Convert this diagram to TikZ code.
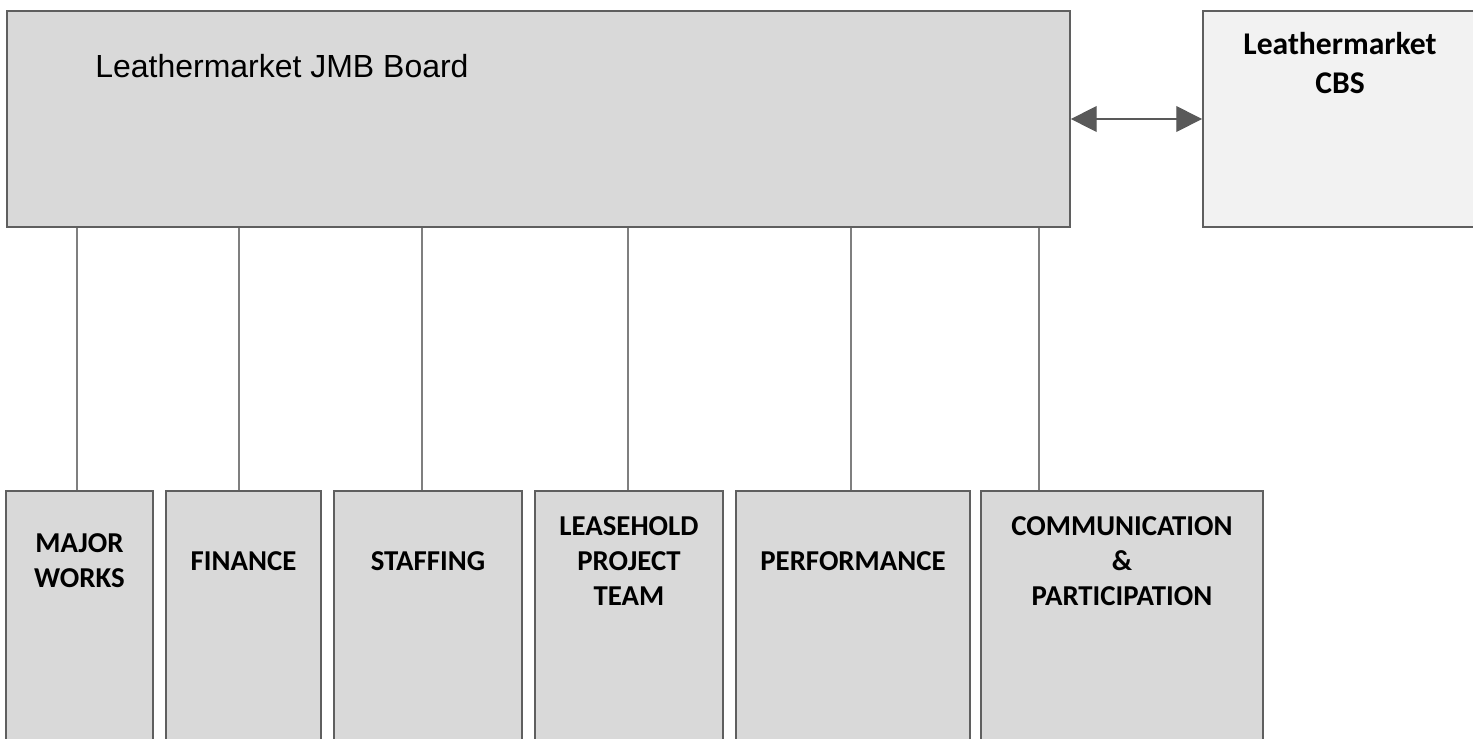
\documentclass[tikz,border=0pt]{standalone}
\usepackage{fontspec}
\setmainfont{Carlito}
\newfontfamily\boardfont{Liberation Sans}
\usepackage{tikz}
\usetikzlibrary{arrows.meta}
\usepackage{xcolor}
\definecolor{panel}{HTML}{D9D9D9}
\definecolor{panellight}{HTML}{F2F2F2}
\definecolor{edgegray}{HTML}{5F5F5F}
\definecolor{wiregray}{HTML}{7F7F7F}
\definecolor{arrowgray}{HTML}{595959}

\begin{document}
\begin{tikzpicture}[x=0.02cm, y=-0.02cm,
        % Define the styles for boxes, captions and links
        box/.style={draw=edgegray, fill=panel, line width=1.1pt, rectangle, inner sep=0pt},
        caption/.style={font=\bfseries\fontsize{16.4}{19.8}\selectfont, align=center, inner sep=0pt},
        link/.style={draw=wiregray, line width=0.7pt}]

        \useasboundingbox (0,0) rectangle (1473,738);

        % 1. The board and the CBS at the top
        \node[box, minimum width=21.26cm, minimum height=4.32cm] (board) at (538.5,119) {};
        \node[box, fill=panellight, minimum width=5.46cm, minimum height=4.32cm] (cbs) at (1339.5,119) {};

        \node[anchor=base west, inner sep=0pt, font=\boardfont\fontsize{18.2}{22}\selectfont] (board-title) at (95,77) {Leathermarket JMB Board};
        \node[caption, font=\bfseries\fontsize{18}{22.7}\selectfont] (cbs-title) at (1340,63) {Leathermarket\\CBS};

        % 2. Two-way arrow between them
        \draw[arrowgray, line width=0.75pt, {Triangle[length=14.7pt, width=14.7pt]}-{Triangle[length=14.7pt, width=14.7pt]}] (board.east) -- (cbs.west);

        % 3. The committees along the bottom (name/centre/width/text)
        \foreach \name/\cx/\w/\txt in {
                major/79.5/2.94/{MAJOR\\WORKS},
                finance/243.5/3.10/{FINANCE},
                staffing/428/3.76/{STAFFING},
                leasehold/629/3.76/{LEASEHOLD\\PROJECT\\TEAM},
                performance/853/4.68/{PERFORMANCE},
                communication/1122/5.64/{COMMUNICATION\\\&\\PARTICIPATION}} {
            \node[box, minimum width=\w cm, minimum height=5.1cm] (\name) at (\cx,618.5) {};
            \node[caption] (\name-title) at (\cx,561) {\txt};
        }

        % 4. Link every committee up to the board
        \foreach \name/\xpos in {major/77, finance/239, staffing/422, leasehold/628, performance/851, communication/1039}
            \draw[link] (board.south -| \xpos,0) -- (\name.north -| \xpos,0);
    \end{tikzpicture}
\end{document}
